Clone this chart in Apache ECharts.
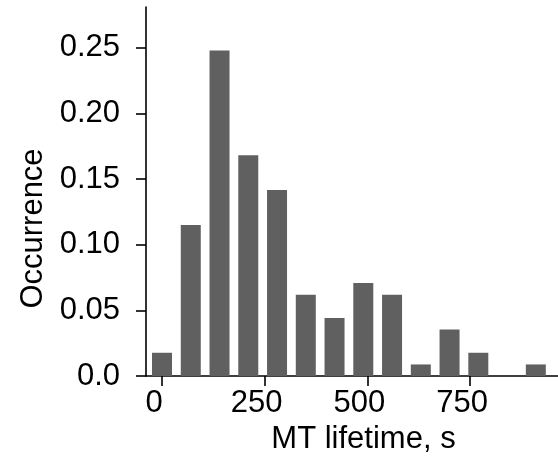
<!DOCTYPE html>
<html>
<head>
<meta charset="utf-8">
<style>
  html, body { margin: 0; padding: 0; background: #fff; }
  #chart { width: 558px; height: 465px; }
</style>
<script src="https://cdn.jsdelivr.net/npm/echarts@6/dist/echarts.min.js"></script>
</head>
<body>
<div id="chart"></div>
<script>
// Histogram of microtubule lifetimes (bin width 70 s)
const binCenters = [0, 70, 140, 210, 280, 350, 420, 490, 560, 630, 700, 770, 840, 910];
const occurrence = [0.0177, 0.1150, 0.2478, 0.1681, 0.1416, 0.0619, 0.0442, 0.0708, 0.0619, 0.0088, 0.0354, 0.0177, 0, 0.0088];
const xTicks = [0, 250, 500, 750];
const yTicks = [0, 0.05, 0.10, 0.15, 0.20, 0.25];

const FONT = '"Liberation Sans", Arial, sans-serif';

const chart = echarts.init(document.getElementById('chart'), null, { renderer: 'canvas' });
chart.setOption({
  animation: false,
  grid: { left: 146, right: 0, top: 7, bottom: 89, containLabel: false },
  xAxis: {
    type: 'value',
    min: -39,
    max: 964,
    name: 'MT lifetime, s',
    nameLocation: 'middle',
    nameGap: 47,
    nameTextStyle: { fontFamily: FONT, fontSize: 31, color: '#000', padding: [0, 0, 0, 23] },
    splitLine: { show: false },
    axisLine: { show: true, onZero: false, lineStyle: { color: '#000', width: 1.6 } },
    axisTick: { show: true, customValues: xTicks, length: 10, lineStyle: { color: '#000', width: 1.6 } },
    axisLabel: {
      customValues: xTicks,
      fontFamily: FONT, fontSize: 31, color: '#000',
      margin: 12,
      padding: [0, 16, 0, 0]
    }
  },
  yAxis: {
    type: 'value',
    min: 0,
    max: 0.281,
    name: 'Occurrence',
    nameLocation: 'middle',
    nameGap: 90,
    nameTextStyle: { fontFamily: FONT, fontSize: 31, color: '#000', padding: [0, 74, 0, 0] },
    splitLine: { show: false },
    axisLine: { show: true, onZero: false, lineStyle: { color: '#000', width: 1.6 } },
    axisTick: { show: true, customValues: yTicks, length: 10, lineStyle: { color: '#000', width: 1.6 } },
    axisLabel: {
      customValues: yTicks,
      fontFamily: FONT, fontSize: 31, color: '#000',
      margin: 26,
      padding: [0, 0, 6, 0],
      formatter: v => (v === 0 ? '0.0' : v.toFixed(2))
    }
  },
  series: [{
    type: 'bar',
    barWidth: 20,
    itemStyle: { color: '#606060' },
    data: binCenters.map((x, i) => [x, occurrence[i]])
  }]
});
</script>
</body>
</html>
